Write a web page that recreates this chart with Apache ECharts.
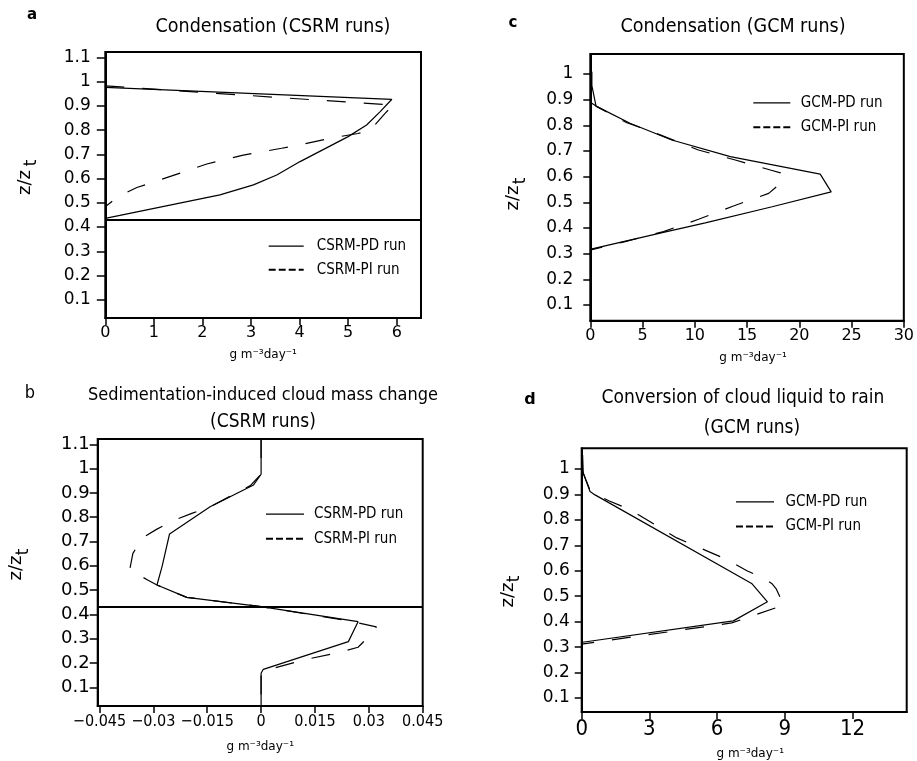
<!DOCTYPE html>
<html><head><meta charset="utf-8">
<script src="https://cdn.jsdelivr.net/npm/echarts@6/dist/echarts.min.js"></script>
<style>html,body{margin:0;padding:0;background:#fff}#c{width:917px;height:761px}</style>
</head><body><div id="c"></div><script>
// ---- Panel a: Condensation (CSRM runs) [x, z/zt]
const aPD = [[0,0.976],[5.90,0.927],[5.66,0.876],[5.38,0.821],[5.0,0.773],[4.01,0.67],[3.53,0.615],[3.05,0.574],[2.36,0.533],[0,0.436]];
const aPI = [[0,0.982],[5.93,0.903],[5.76,0.869],[5.45,0.798],[5.2,0.786],[4.6,0.765],[4.0,0.739],[3.63,0.725],[2.84,0.697],[2.09,0.66],[1.37,0.611],[0.65,0.563],[0.27,0.526],[0,0.484]];
const aBase = 0.434;
// ---- Panel b: Sedimentation-induced cloud mass change (CSRM runs)
const bPD = [[0,1.122],[0,0.977],[-0.0021,0.933],[-0.0142,0.843],[-0.0255,0.731],[-0.0276,0.596],[-0.029,0.521],[-0.0207,0.47],[0,0.432],[0.027,0.37],[0.0243,0.288],[0.0006,0.174],[0,0.158],[0,0.023]];
const bPI = [[0,1.122],[0,0.977],[-0.003,0.93],[-0.0142,0.843],[-0.0193,0.816],[-0.024,0.789],[-0.029,0.751],[-0.0332,0.713],[-0.0357,0.651],[-0.0366,0.583],[-0.0316,0.542],[-0.029,0.521],[-0.0207,0.47],[0,0.432],[0.0243,0.374],[0.0321,0.349],[0.0307,0.319],[0.027,0.265],[0.0224,0.246],[0.0117,0.212],[0.0016,0.171],[0,0.158],[0,0.023]];
const bBase = 0.428;
// ---- Panel c: Condensation (GCM runs)
const cPD = [[0.15,1.009],[0.15,0.955],[0.55,0.875],[3.8,0.808],[7.8,0.743],[13.4,0.678],[22.0,0.61],[23.05,0.541],[17.4,0.483],[11.0,0.42],[6.68,0.38],[0.07,0.318]];
const cPI = [[0,0.89],[0.55,0.875],[3.5,0.81],[6.2,0.771],[10.35,0.704],[13.87,0.665],[17.23,0.626],[18.2,0.615],[18.5,0.584],[17.07,0.535],[13.7,0.486],[10.36,0.434],[7.0,0.386],[3.33,0.347],[0.05,0.315]];
// ---- Panel d: Conversion of cloud liquid to rain (GCM runs)
const dPD = [[0.04,1.055],[0.07,0.983],[0.37,0.911],[0.59,0.898],[7.53,0.55],[8.23,0.478],[6.72,0.403],[0.04,0.319]];
const dPI = [[0.04,0.99],[0.4,0.91],[1.2,0.875],[2.14,0.84],[4.21,0.729],[6.43,0.644],[7.32,0.6],[8.0,0.573],[8.42,0.55],[8.61,0.53],[8.95,0.465],[6.65,0.395],[0,0.312]];
// ---- tick labels
const yTicksAB = [0.1,0.2,0.3,0.4,0.5,0.6,0.7,0.8,0.9,1,1.1];
const yTicksCD = [0.1,0.2,0.3,0.4,0.5,0.6,0.7,0.8,0.9,1];
const xTicksA = [0,1,2,3,4,5,6];
const xTicksB = [-0.045,-0.03,-0.015,0,0.015,0.03,0.045];
const xTicksC = [0,5,10,15,20,25,30];
const xTicksD = [0,3,6,9,12];
const titles = ['Condensation (CSRM runs)','Sedimentation-induced cloud mass change','(CSRM runs)','Condensation (GCM runs)','Conversion of cloud liquid to rain','(GCM runs)'];
const unitName = 'g m\u207B\u00B3day\u207B\u00B9';

const ROUND = "'DejaVu Sans', sans-serif";
const NARROW = "'Liberation Sans Narrow', 'DejaVu Sans Condensed', 'Noto Sans', sans-serif";

function yAx(gi, min, max, ticks, fs, margin, tickLen){
  return {gridIndex: gi, type:'value', min, max,
    axisLine:{show:true, onZero:false, lineStyle:{color:'#000', width:2}},
    axisTick:{show:true, length:tickLen, customValues:ticks, lineStyle:{color:'#000', width:1.5}},
    axisLabel:{customValues:ticks, fontFamily:ROUND, fontSize:fs, color:'#000', margin},
    splitLine:{show:false}};
}
function xAx(gi, min, max, ticks, font, fs, margin, nameGap, namePadLeft){
  return {gridIndex: gi, type:'value', min, max,
    name: unitName, nameLocation:'middle', nameGap,
    nameTextStyle:{fontFamily:ROUND, fontSize:12, color:'#000', verticalAlign:'middle', padding:[0,0,0,namePadLeft||0]},
    axisLine:{show:true, onZero:false, lineStyle:{color:'#000', width:2}},
    axisTick:{show:true, length:7, customValues:ticks, lineStyle:{color:'#000', width:1.5}},
    axisLabel:{customValues:ticks, fontFamily:font, fontSize:fs, color:'#000', margin,
      formatter: v => (v<0 ? '\u2212' + String(-v) : String(v))},
    splitLine:{show:false}};
}
function ser(name, data, xi, dashed, base){
  const s = {name, type:'line', data, xAxisIndex:xi, yAxisIndex:xi, symbol:'none', silent:true,
    color:'#000', itemStyle:{color:'#000'},
    lineStyle:{color:'#000', width:1.2, type: dashed ? [19,18] : 'solid'}, animation:false};
  if (base !== undefined) {
    s.markLine = {silent:true, symbol:'none', label:{show:false},
      lineStyle:{color:'#000', width:1.8, type:'solid'}, data:[{yAxis: base}]};
  }
  return s;
}
function leg(names, left, top, gap, iw, pad){
  return {orient:'vertical', left, top, itemWidth:iw, itemHeight:18, itemGap:gap, selectedMode:false,
    itemStyle:{opacity:0},
    textStyle:{fontFamily:NARROW, fontSize:15, color:'#000', padding:[0,0,0,pad]},
    data:[{name:names[0], itemStyle:{opacity:0}, lineStyle:{color:'#000', width:1.3, type:'solid'}},
          {name:names[1], itemStyle:{opacity:0}, lineStyle:{color:'#000', width:2, type:[7,3]}}]};
}
function txt(x, y, text, font, rot){
  return {type:'text', x, y, rotation: rot || 0, silent:true,
    style:{text, font, fill:'#000', align:'center', verticalAlign:'middle', textAlign:'center', textVerticalAlign:'middle'}};
}

const chart = echarts.init(document.getElementById('c'));
chart.setOption({
  animation:false,
  backgroundColor:'#fff',
  grid:[
    {left:105.3, top:52, width:315.7, height:266, show:true, borderColor:'#000', borderWidth:2, containLabel:false},
    {left:97.7, top:439, width:325, height:267, show:true, borderColor:'#000', borderWidth:2, containLabel:false},
    {left:590.3, top:54, width:314, height:266.7, show:true, borderColor:'#000', borderWidth:2, containLabel:false},
    {left:581.7, top:448.3, width:325, height:265, show:true, borderColor:'#000', borderWidth:2, containLabel:false}
  ],
  xAxis:[
    xAx(0, 0, 6.5, xTicksA, ROUND, 16, 7, 37, 0),
    xAx(1, -0.0455, 0.045, xTicksB, NARROW, 16, 8, 41, 0),
    xAx(2, 0, 30, xTicksC, ROUND, 16, 7, 37, 12),
    xAx(3, 0, 14.4, xTicksD, NARROW, 22, 6, 42, 12)
  ],
  yAxis:[
    yAx(0, 0.025, 1.122, yTicksAB, 17, 14.5, 8.5),
    yAx(1, 0.023, 1.122, yTicksAB, 18, 8, 8),
    yAx(2, 0.039, 1.078, yTicksCD, 17, 17, 7),
    yAx(3, 0.045, 1.081, yTicksCD, 17, 12, 7)
  ],
  legend:[
    leg(['CSRM-PD run','CSRM-PI run'], 262.7, 233.7, 8.6, 35, 8),
    leg(['CSRM-PD run','CSRM-PI run'], 260, 501.7, 9.6, 38, 5),
    leg(['GCM-PD run','GCM-PI run'], 747.3, 90.3, 9.4, 37, 5.5),
    leg(['GCM-PD run','GCM-PI run'], 730, 489.3, 9.7, 38, 6.5)
  ],
  series:[
    ser('CSRM-PD run', aPD, 0, false, aBase),
    ser('CSRM-PI run', aPI, 0, true),
    ser('CSRM-PD run', bPD, 1, false, bBase),
    ser('CSRM-PI run', bPI, 1, true),
    ser('GCM-PD run', cPD, 2, false),
    ser('GCM-PI run', cPI, 2, true),
    ser('GCM-PD run', dPD, 3, false),
    ser('GCM-PI run', dPI, 3, true)
  ],
  graphic:[
    txt(273, 27, titles[0], '19.5px ' + NARROW),
    txt(263, 395, titles[1], '18px ' + NARROW),
    txt(263, 421.7, titles[2], '19px ' + NARROW),
    txt(733, 27, titles[3], '19.5px ' + NARROW),
    txt(743, 398.3, titles[4], '19px ' + NARROW),
    txt(752, 428.3, titles[5], '19px ' + NARROW),
    txt(32, 15, 'a', 'bold 15px ' + ROUND),
    txt(30, 393, 'b', '18px ' + NARROW),
    txt(513, 23, 'c', 'bold 15px ' + ROUND),
    txt(530, 400, 'd', 'bold 16px ' + ROUND),
    // y-axis names z/z_t
    txt(25, 182.5, 'z/z', '18px ' + ROUND, Math.PI/2),
    txt(31.5, 163, 't', '17px ' + ROUND, Math.PI/2),
    txt(16.7, 568, 'z/z', '18px ' + ROUND, Math.PI/2),
    txt(23.3, 552, 't', '17px ' + ROUND, Math.PI/2),
    txt(513, 198, 'z/z', '18px ' + ROUND, Math.PI/2),
    txt(521, 181, 't', '17px ' + ROUND, Math.PI/2),
    txt(508, 595, 'z/z', '18px ' + ROUND, Math.PI/2),
    txt(515, 579, 't', '17px ' + ROUND, Math.PI/2)
  ]
});
</script></body></html>
